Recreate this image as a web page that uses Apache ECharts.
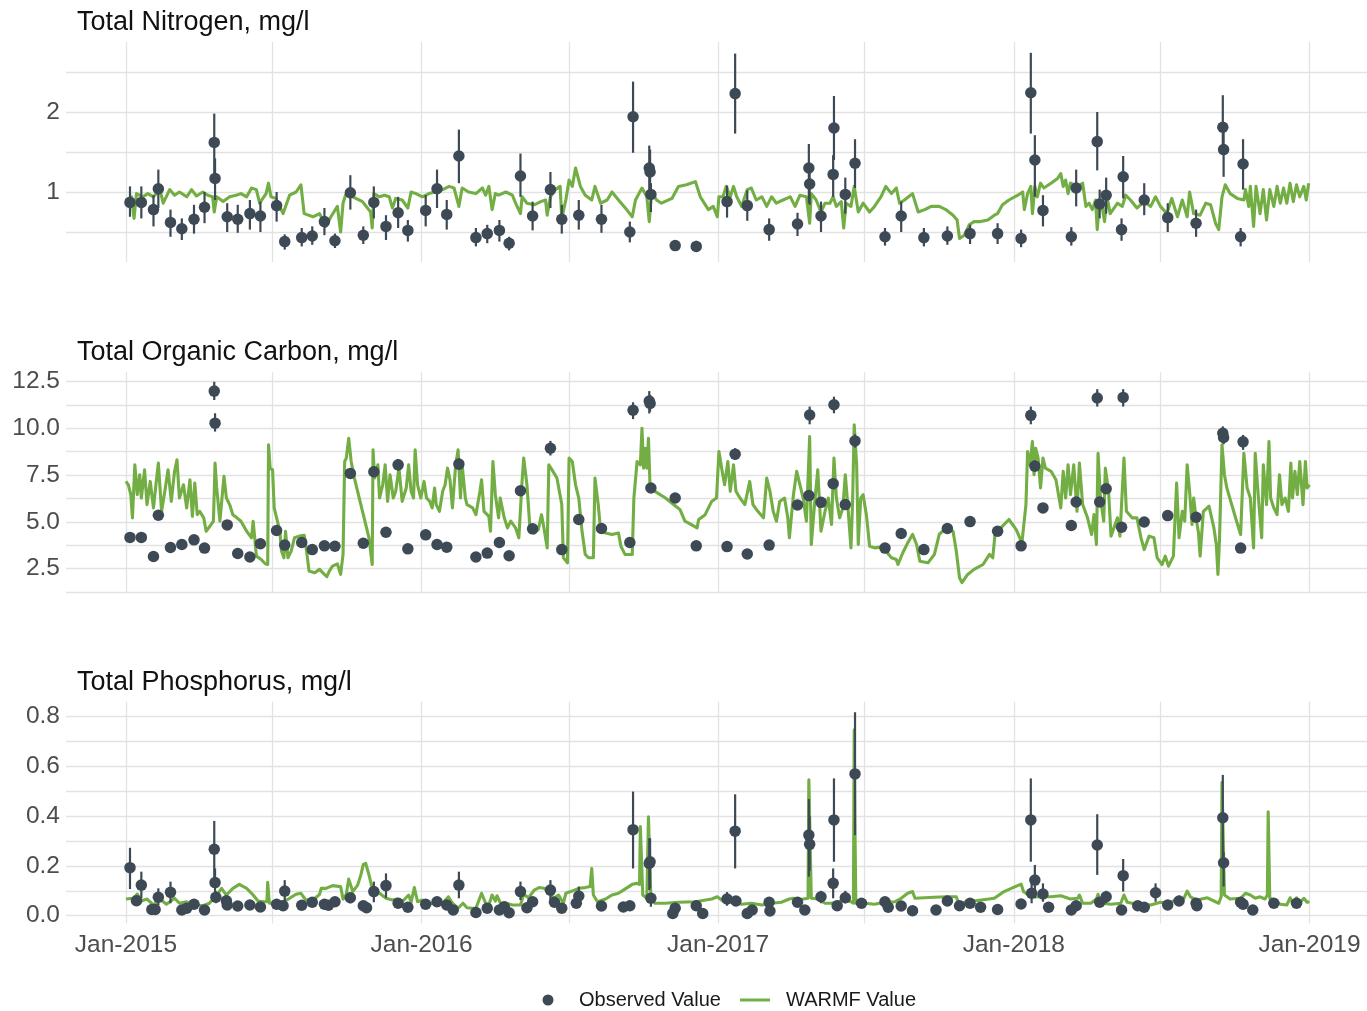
<!DOCTYPE html>
<html>
<head>
<meta charset="utf-8">
<script src="https://cdn.jsdelivr.net/npm/echarts@6/dist/echarts.min.js"></script>
<style>
  html, body { margin: 0; padding: 0; background: #ffffff; }
  #chart { width: 1367px; height: 1011px; }
</style>
</head>
<body>
<div id="chart"></div>
<script>
// ---- Observed samples: [date, value, lower, upper] ----
const tnObs = [
  ['2015-01-06',0.87,0.69,1.07],['2015-01-20',0.87,0.67,1.07],['2015-02-04',0.78,0.57,0.96],['2015-02-10',1.04,0.80,1.28],
  ['2015-02-25',0.62,0.44,0.78],['2015-03-11',0.54,0.40,0.67],['2015-03-26',0.66,0.48,0.84],['2015-04-08',0.81,0.61,1.00],
  ['2015-04-20',1.62,1.23,1.98],['2015-04-21',1.17,0.90,1.42],['2015-05-06',0.69,0.50,0.86],['2015-05-19',0.66,0.49,0.84],
  ['2015-06-03',0.73,0.53,0.90],['2015-06-16',0.70,0.50,0.88],['2015-07-06',0.83,0.63,1.00],['2015-07-16',0.38,0.28,0.47],
  ['2015-08-06',0.43,0.32,0.55],['2015-08-19',0.45,0.34,0.57],['2015-09-03',0.63,0.46,0.80],['2015-09-16',0.39,0.30,0.48],
  ['2015-10-05',0.99,0.78,1.21],['2015-10-21',0.46,0.35,0.57],['2015-11-03',0.87,0.67,1.07],['2015-11-18',0.57,0.40,0.71],
  ['2015-12-03',0.74,0.55,0.94],['2015-12-15',0.52,0.38,0.65],['2016-01-06',0.77,0.57,0.96],['2016-01-20',1.04,0.80,1.28],
  ['2016-02-01',0.72,0.53,0.90],['2016-02-16',1.45,1.11,1.78],['2016-03-08',0.43,0.32,0.55],['2016-03-22',0.48,0.36,0.59],
  ['2016-04-06',0.52,0.38,0.65],['2016-04-18',0.36,0.27,0.44],['2016-05-02',1.20,0.94,1.48],['2016-05-17',0.70,0.52,0.88],
  ['2016-06-08',1.03,0.80,1.25],['2016-06-22',0.66,0.48,0.84],['2016-07-13',0.71,0.53,0.90],['2016-08-10',0.66,0.49,0.84],
  ['2016-09-14',0.50,0.37,0.63],['2016-09-18',1.94,1.49,2.38],['2016-10-08',1.30,1.00,1.58],['2016-10-09',1.25,0.98,1.53],
  ['2016-10-10',0.97,0.75,1.11],['2016-11-09',0.33,0.27,0.40],['2016-12-05',0.32,0.25,0.39],['2017-01-12',0.88,0.68,1.08],
  ['2017-01-22',2.23,1.73,2.73],['2017-02-06',0.83,0.64,1.02],['2017-03-05',0.53,0.39,0.67],['2017-04-09',0.60,0.45,0.74],
  ['2017-04-23',1.30,0.86,1.60],['2017-04-24',1.10,0.84,1.32],['2017-05-08',0.70,0.50,0.88],['2017-05-23',1.22,0.94,1.46],
  ['2017-05-24',1.80,1.40,2.20],['2017-06-07',0.97,0.73,1.18],['2017-06-19',1.36,1.05,1.66],['2017-07-26',0.44,0.33,0.55],
  ['2017-08-15',0.70,0.50,0.88],['2017-09-12',0.43,0.32,0.55],['2017-10-11',0.45,0.34,0.57],['2017-11-08',0.48,0.35,0.59],
  ['2017-12-12',0.48,0.35,0.61],['2018-01-10',0.42,0.31,0.53],['2018-01-22',2.24,1.73,2.74],['2018-01-27',1.40,0.94,1.71],
  ['2018-02-06',0.77,0.57,0.96],['2018-03-13',0.44,0.33,0.56],['2018-03-19',1.05,0.82,1.28],['2018-04-14',1.63,1.27,2.00],
  ['2018-04-17',0.85,0.67,1.03],['2018-04-25',0.96,0.73,1.18],['2018-05-14',0.53,0.39,0.67],['2018-05-16',1.19,0.92,1.45],
  ['2018-06-11',0.90,0.71,1.11],['2018-07-10',0.68,0.50,0.86],['2018-08-14',0.61,0.44,0.78],['2018-09-16',1.81,1.53,2.21],
  ['2018-09-17',1.53,1.19,1.84],['2018-10-08',0.44,0.32,0.55],['2018-10-11',1.35,1.03,1.66]
];

const tocObs = [
  ['2015-01-06',4.16,4.00,4.32],['2015-01-20',4.16,4.00,4.32],['2015-02-04',3.14,3.02,3.26],['2015-02-10',5.35,5.15,5.55],
  ['2015-02-25',3.62,3.48,3.76],['2015-03-11',3.78,3.64,3.92],['2015-03-26',4.03,3.88,4.18],['2015-04-08',3.59,3.45,3.73],
  ['2015-04-20',12.00,11.52,12.50],['2015-04-21',10.28,9.83,10.81],['2015-05-06',4.83,4.65,5.01],['2015-05-19',3.30,3.17,3.43],
  ['2015-06-03',3.11,2.99,3.23],['2015-06-16',3.82,3.67,3.97],['2015-07-06',4.53,4.36,4.70],['2015-07-16',3.75,3.61,3.89],
  ['2015-08-06',3.89,3.74,4.04],['2015-08-19',3.51,3.38,3.64],['2015-09-03',3.71,3.57,3.85],['2015-09-16',3.69,3.55,3.83],
  ['2015-10-05',7.59,7.30,7.88],['2015-10-21',3.85,3.70,4.00],['2015-11-03',7.68,7.39,7.97],['2015-11-18',4.44,4.27,4.61],
  ['2015-12-03',8.05,7.74,8.36],['2015-12-15',3.55,3.41,3.69],['2016-01-06',4.30,4.14,4.46],['2016-01-20',3.78,3.64,3.92],
  ['2016-02-01',3.64,3.50,3.78],['2016-02-16',8.09,7.78,8.40],['2016-03-08',3.11,2.99,3.23],['2016-03-22',3.32,3.19,3.45],
  ['2016-04-06',3.89,3.74,4.04],['2016-04-18',3.18,3.06,3.30],['2016-05-02',6.66,6.41,6.91],['2016-05-17',4.62,4.44,4.80],
  ['2016-06-08',8.94,8.55,9.33],['2016-06-22',3.51,3.38,3.64],['2016-07-13',5.12,4.93,5.31],['2016-08-10',4.64,4.46,4.82],
  ['2016-09-14',3.89,3.74,4.04],['2016-09-18',10.97,10.50,11.40],['2016-10-08',11.47,10.80,12.00],['2016-10-09',11.34,10.90,11.80],
  ['2016-10-10',6.81,6.55,7.07],['2016-11-09',6.27,6.03,6.51],['2016-12-05',3.71,3.57,3.85],['2017-01-12',3.67,3.53,3.81],
  ['2017-01-22',8.62,8.32,8.94],['2017-02-06',3.27,3.15,3.39],['2017-03-05',3.75,3.61,3.89],['2017-04-09',5.90,5.68,6.12],
  ['2017-04-23',6.40,6.16,6.64],['2017-04-24',10.72,10.22,11.17],['2017-05-08',6.04,5.81,6.27],['2017-05-23',7.04,6.77,7.31],
  ['2017-05-24',11.27,10.81,11.70],['2017-06-07',5.92,5.70,6.14],['2017-06-19',9.33,8.97,9.69],['2017-07-26',3.59,3.45,3.73],
  ['2017-08-15',4.37,4.20,4.54],['2017-09-12',3.51,3.38,3.64],['2017-10-11',4.64,4.46,4.82],['2017-11-08',5.01,4.82,5.20],
  ['2017-12-12',4.49,4.32,4.66],['2018-01-10',3.71,3.57,3.85],['2018-01-22',10.70,10.22,11.17],['2018-01-27',7.98,7.68,8.28],
  ['2018-02-06',5.74,5.52,5.96],['2018-03-13',4.80,4.62,4.98],['2018-03-19',6.06,5.83,6.29],['2018-04-14',11.63,11.17,12.10],
  ['2018-04-17',6.06,5.83,6.29],['2018-04-25',6.77,6.51,7.03],['2018-05-14',4.71,4.53,4.89],['2018-05-16',11.66,11.17,12.10],
  ['2018-06-11',4.99,4.80,5.18],['2018-07-10',5.33,5.13,5.53],['2018-08-14',5.24,5.04,5.44],['2018-09-16',9.74,9.37,10.11],
  ['2018-09-17',9.51,9.15,9.87],['2018-10-08',3.59,3.45,3.73],['2018-10-11',9.28,8.85,9.65]
];

const tpObs = [
  ['2015-01-06',0.193,0.107,0.273],['2015-01-14',0.060,0.045,0.075],['2015-01-20',0.123,0.070,0.177],['2015-02-02',0.025,0.018,0.032],
  ['2015-02-06',0.025,0.018,0.032],['2015-02-10',0.074,0.043,0.110],['2015-02-25',0.094,0.050,0.137],['2015-03-11',0.023,0.016,0.030],
  ['2015-03-17',0.030,0.021,0.039],['2015-03-26',0.046,0.032,0.060],['2015-04-08',0.023,0.016,0.030],['2015-04-20',0.267,0.137,0.381],
  ['2015-04-21',0.133,0.070,0.190],['2015-04-22',0.074,0.050,0.098],['2015-05-05',0.060,0.042,0.078],['2015-05-06',0.043,0.030,0.056],
  ['2015-05-19',0.039,0.027,0.051],['2015-06-03',0.043,0.030,0.056],['2015-06-16',0.035,0.025,0.045],['2015-07-06',0.046,0.032,0.060],
  ['2015-07-14',0.040,0.028,0.052],['2015-07-16',0.099,0.056,0.143],['2015-08-06',0.042,0.029,0.055],['2015-08-19',0.054,0.038,0.070],
  ['2015-09-03',0.046,0.032,0.060],['2015-09-08',0.042,0.029,0.055],['2015-09-16',0.056,0.039,0.073],['2015-10-05',0.072,0.050,0.094],
  ['2015-10-21',0.040,0.028,0.052],['2015-10-25',0.032,0.022,0.042],['2015-11-03',0.097,0.054,0.137],['2015-11-18',0.121,0.072,0.170],
  ['2015-12-03',0.050,0.035,0.065],['2015-12-15',0.034,0.024,0.044],['2016-01-06',0.046,0.032,0.060],['2016-01-20',0.056,0.039,0.073],
  ['2016-02-01',0.043,0.030,0.056],['2016-02-09',0.023,0.016,0.030],['2016-02-16',0.123,0.070,0.177],['2016-03-08',0.013,0.009,0.017],
  ['2016-03-22',0.030,0.021,0.039],['2016-04-06',0.023,0.016,0.030],['2016-04-12',0.036,0.025,0.047],['2016-04-18',0.012,0.008,0.016],
  ['2016-05-02',0.097,0.063,0.137],['2016-05-10',0.032,0.022,0.042],['2016-05-17',0.056,0.039,0.073],['2016-06-08',0.103,0.063,0.143],
  ['2016-06-13',0.054,0.038,0.070],['2016-06-22',0.030,0.021,0.039],['2016-07-10',0.050,0.035,0.065],['2016-07-13',0.079,0.050,0.117],
  ['2016-08-10',0.039,0.027,0.051],['2016-09-06',0.035,0.025,0.045],['2016-09-14',0.040,0.028,0.052],['2016-09-18',0.346,0.190,0.499],
  ['2016-10-08',0.210,0.103,0.311],['2016-10-09',0.217,0.110,0.311],['2016-10-10',0.070,0.036,0.090],['2016-11-06',0.009,0.006,0.012],
  ['2016-11-09',0.030,0.021,0.039],['2016-12-05',0.040,0.028,0.052],['2016-12-13',0.009,0.006,0.012],['2017-01-12',0.067,0.040,0.095],
  ['2017-01-22',0.340,0.190,0.488],['2017-01-23',0.059,0.041,0.077],['2017-02-06',0.009,0.006,0.012],['2017-02-12',0.023,0.016,0.030],
  ['2017-03-05',0.054,0.038,0.070],['2017-03-06',0.019,0.013,0.025],['2017-04-09',0.054,0.038,0.070],['2017-04-18',0.023,0.016,0.030],
  ['2017-04-23',0.324,0.157,0.469],['2017-04-24',0.287,0.180,0.400],['2017-05-08',0.076,0.050,0.100],['2017-05-23',0.130,0.070,0.190],
  ['2017-05-24',0.385,0.217,0.552],['2017-05-28',0.040,0.028,0.052],['2017-06-07',0.072,0.050,0.100],['2017-06-19',0.570,0.324,0.818],
  ['2017-06-27',0.050,0.035,0.065],['2017-07-26',0.056,0.039,0.073],['2017-07-30',0.034,0.024,0.044],['2017-08-15',0.039,0.027,0.051],
  ['2017-08-29',0.020,0.014,0.026],['2017-09-27',0.023,0.016,0.030],['2017-10-11',0.059,0.040,0.080],['2017-10-26',0.040,0.028,0.052],
  ['2017-11-08',0.050,0.035,0.065],['2017-11-21',0.034,0.024,0.044],['2017-12-12',0.025,0.018,0.032],['2018-01-10',0.047,0.033,0.061],
  ['2018-01-22',0.385,0.217,0.552],['2018-01-23',0.090,0.050,0.130],['2018-01-27',0.143,0.070,0.204],['2018-02-06',0.087,0.056,0.130],
  ['2018-02-13',0.034,0.024,0.044],['2018-03-13',0.023,0.016,0.030],['2018-03-19',0.040,0.028,0.052],['2018-04-14',0.284,0.164,0.408],
  ['2018-04-17',0.054,0.038,0.070],['2018-04-25',0.076,0.050,0.100],['2018-05-14',0.023,0.016,0.030],['2018-05-16',0.161,0.097,0.228],
  ['2018-06-03',0.040,0.028,0.052],['2018-06-11',0.034,0.024,0.044],['2018-06-25',0.092,0.056,0.130],['2018-07-10',0.043,0.030,0.056],
  ['2018-07-24',0.059,0.040,0.080],['2018-08-14',0.050,0.035,0.065],['2018-08-15',0.040,0.028,0.052],['2018-09-16',0.394,0.190,0.566],
  ['2018-09-17',0.213,0.117,0.257],['2018-10-08',0.054,0.038,0.070],['2018-10-11',0.046,0.032,0.060],['2018-10-23',0.023,0.016,0.030],
  ['2018-11-18',0.050,0.035,0.065],['2018-12-16',0.050,0.035,0.065]
];

// ---- WARMF simulation output: [simulation day since MODEL_START, value] ----
const MODEL_START = [2015, 0, 1];

const tnModel = [
  [0,0.90],[7,0.94],[10,0.67],[13,0.98],[21,0.94],[27,0.98],[34,0.94],[42,1.03],[46,0.86],[54,1.03],[60,0.96],[66,1.00],
  [75,0.94],[81,1.03],[87,0.95],[95,1.00],[101,0.96],[107,0.94],[109,0.75],[112,0.94],[120,0.88],[128,0.94],[136,0.96],
  [142,0.98],[149,0.94],[155,1.05],[161,1.03],[165,0.86],[173,0.98],[176,1.11],[179,0.94],[185,0.92],[194,0.73],[202,0.96],
  [210,1.00],[216,1.09],[220,0.73],[231,0.69],[239,0.73],[247,0.57],[253,0.69],[261,0.82],[265,0.50],[268,0.86],[271,0.96],
  [280,0.94],[292,0.88],[302,0.75],[304,0.55],[306,0.98],[313,0.94],[319,0.96],[325,0.94],[329,0.80],[333,0.92],[341,0.90],
  [348,0.80],[352,1.00],[358,0.98],[366,0.94],[374,0.98],[382,1.00],[391,1.03],[399,1.07],[405,1.05],[411,0.82],[415,1.05],
  [423,1.00],[432,0.98],[440,1.05],[444,0.96],[448,1.07],[452,0.78],[456,0.98],[460,0.96],[469,1.00],[477,0.96],[481,0.86],
  [487,0.73],[489,0.94],[495,0.86],[504,0.84],[512,0.88],[518,0.90],[520,0.71],[524,0.94],[530,1.03],[536,1.07],[538,0.67],
  [543,0.90],[547,1.15],[551,1.07],[555,1.30],[557,1.32],[561,1.07],[567,0.96],[575,0.90],[579,1.07],[586,0.86],[594,0.90],
  [600,1.00],[608,0.90],[618,0.78],[625,0.69],[629,0.90],[637,1.05],[643,0.94],[646,0.63],[649,1.00],[655,0.90],[661,0.86],
  [674,0.92],[682,1.07],[692,1.09],[703,1.13],[709,0.94],[719,0.78],[725,0.82],[730,0.69],[732,0.94],[737,0.94],[741,1.07],
  [746,0.94],[750,1.07],[754,0.94],[760,0.82],[767,1.03],[772,1.05],[778,0.90],[785,0.94],[791,0.82],[797,0.94],[803,0.86],
  [811,0.90],[820,0.94],[826,0.82],[832,0.96],[840,0.94],[844,0.61],[846,0.98],[852,0.90],[858,0.75],[863,0.86],[869,0.86],
  [873,0.94],[877,0.82],[883,0.88],[886,0.55],[889,0.86],[895,0.82],[899,1.07],[904,0.75],[910,0.86],[918,0.75],[924,0.82],
  [932,0.94],[938,1.07],[945,0.98],[951,1.05],[955,0.86],[961,0.90],[966,0.94],[971,0.98],[978,0.75],[986,0.78],[994,0.82],
  [1004,0.82],[1012,0.78],[1021,0.71],[1026,0.65],[1029,0.42],[1035,0.46],[1041,0.59],[1047,0.63],[1055,0.63],[1064,0.65],
  [1072,0.71],[1076,0.73],[1082,0.84],[1090,0.90],[1101,0.96],[1107,1.00],[1109,0.78],[1113,0.98],[1117,1.07],[1119,0.73],
  [1122,1.07],[1125,0.94],[1129,1.11],[1133,1.05],[1142,1.11],[1150,1.17],[1154,1.23],[1157,1.07],[1160,1.15],[1163,0.98],
  [1166,1.11],[1175,1.07],[1181,1.11],[1185,0.82],[1189,0.86],[1193,0.78],[1197,0.90],[1199,0.53],[1202,0.90],[1205,0.82],
  [1208,0.63],[1211,0.94],[1215,0.73],[1224,0.86],[1230,0.82],[1234,0.96],[1240,0.90],[1248,0.80],[1257,0.88],[1265,0.82],
  [1271,0.94],[1277,0.82],[1285,0.73],[1291,0.92],[1298,0.69],[1304,0.90],[1310,0.69],[1313,1.00],[1318,0.73],[1326,0.71],
  [1333,0.86],[1339,0.84],[1345,0.61],[1349,0.53],[1353,0.94],[1357,1.09],[1363,0.98],[1372,0.92],[1380,0.90],[1382,1.03],
  [1386,0.82],[1388,1.07],[1392,0.57],[1395,1.07],[1400,0.73],[1404,1.03],[1408,0.65],[1412,1.03],[1417,0.82],[1421,1.07],
  [1425,0.86],[1429,1.05],[1433,0.86],[1437,1.11],[1441,0.88],[1445,1.09],[1449,0.94],[1454,1.07],[1457,0.90],[1460,1.11]
];

const tocModel = [
  [0,7.16],[3,6.98],[6,6.45],[8,5.21],[11,8.05],[14,6.45],[17,7.52],[19,6.27],[23,7.78],[26,5.92],[30,7.16],[34,5.74],
  [37,6.98],[40,8.14],[44,5.56],[48,6.63],[52,7.78],[56,6.09],[60,7.70],[63,8.32],[66,6.27],[71,6.98],[75,5.74],[79,7.25],
  [82,5.29],[85,7.07],[88,5.38],[91,5.56],[96,5.21],[99,4.49],[105,4.85],[108,5.03],[110,8.14],[112,6.81],[116,5.03],
  [121,7.43],[124,6.27],[128,5.92],[132,5.38],[137,5.21],[142,5.03],[149,4.49],[155,4.14],[157,5.03],[159,4.14],[161,3.16],
  [167,2.98],[172,2.75],[175,2.71],[176,9.12],[178,7.87],[181,7.78],[183,5.74],[186,5.21],[190,4.49],[192,3.43],[195,3.07],
  [197,4.49],[200,3.07],[204,3.43],[208,4.14],[214,4.23],[220,4.28],[223,3.43],[226,2.36],[233,2.27],[239,2.45],[245,2.18],
  [248,2.06],[251,2.36],[255,2.62],[261,2.75],[265,2.18],[268,3.25],[270,8.23],[272,8.41],[275,9.47],[278,8.23],[282,7.34],
  [288,6.27],[294,5.21],[300,4.14],[304,2.71],[305,8.85],[307,7.34],[311,8.05],[313,6.27],[317,6.98],[320,8.05],[323,6.09],
  [326,7.52],[330,6.27],[333,6.63],[337,7.87],[341,6.09],[346,6.81],[349,8.05],[352,6.63],[355,6.27],[357,8.85],[360,6.98],
  [364,6.27],[368,7.16],[371,6.27],[375,6.09],[378,5.74],[381,6.81],[383,5.92],[387,5.56],[391,6.63],[394,6.98],[397,7.87],
  [400,7.25],[403,5.74],[407,8.05],[410,8.85],[413,6.27],[415,8.05],[419,6.27],[421,5.92],[428,5.74],[432,5.38],[437,6.63],
  [439,7.25],[442,5.56],[448,5.29],[450,4.49],[453,8.23],[456,6.45],[460,5.21],[462,6.27],[467,5.21],[471,4.67],[475,5.03],
  [481,4.67],[485,4.14],[487,4.14],[489,7.16],[491,8.41],[495,6.98],[499,4.49],[504,4.40],[509,4.58],[513,5.38],[516,4.67],
  [520,3.60],[522,8.05],[526,7.78],[532,7.34],[538,5.92],[540,3.07],[542,3.07],[545,2.80],[547,8.41],[551,8.23],[555,6.98],
  [559,6.27],[563,4.49],[567,3.25],[571,3.07],[577,3.07],[579,7.34],[583,5.92],[586,4.49],[592,4.40],[600,4.32],[608,4.40],
  [611,3.69],[616,3.25],[625,3.25],[627,6.27],[631,8.23],[635,8.05],[637,10.01],[639,7.87],[641,8.94],[643,7.87],[645,9.47],
  [647,6.81],[653,6.63],[666,6.27],[676,5.92],[684,5.65],[690,5.03],[698,4.85],[705,4.67],[707,5.12],[715,5.38],[723,6.09],
  [729,6.27],[732,8.76],[736,7.70],[739,6.98],[743,8.23],[746,6.63],[750,8.05],[753,6.63],[758,6.27],[764,5.92],[770,7.16],
  [774,5.92],[780,5.56],[787,5.21],[791,7.34],[795,6.63],[799,5.56],[803,5.03],[807,6.09],[813,6.27],[817,5.21],[819,4.14],
  [824,6.45],[828,7.70],[832,6.98],[836,6.27],[840,5.03],[844,9.56],[846,3.78],[850,5.92],[854,7.78],[858,4.49],[863,5.56],
  [867,6.27],[871,4.85],[874,8.41],[877,6.27],[881,5.21],[885,5.74],[888,7.52],[891,5.92],[895,3.60],[897,6.09],[899,10.19],
  [902,8.05],[904,3.78],[907,6.27],[910,6.45],[914,5.38],[918,3.69],[924,3.60],[932,3.64],[938,3.43],[945,3.07],[951,2.98],
  [953,2.71],[959,3.34],[965,3.87],[971,4.32],[976,3.78],[980,2.89],[990,2.80],[998,3.25],[1004,4.32],[1010,4.58],[1017,4.58],
  [1021,4.49],[1025,3.43],[1029,2.00],[1032,1.74],[1039,2.18],[1047,2.45],[1058,2.71],[1066,3.25],[1070,3.07],[1073,4.40],
  [1080,4.67],[1090,5.12],[1099,4.58],[1106,3.87],[1111,5.92],[1113,8.76],[1116,8.05],[1119,9.30],[1121,7.52],[1123,8.94],
  [1126,8.41],[1129,6.81],[1132,8.41],[1135,7.87],[1142,7.70],[1148,7.25],[1154,5.74],[1157,7.70],[1160,6.27],[1163,8.05],
  [1166,6.45],[1170,8.05],[1174,5.56],[1177,8.14],[1181,5.92],[1187,5.21],[1192,4.32],[1195,5.38],[1198,3.78],[1200,8.67],
  [1203,6.27],[1207,5.03],[1209,7.87],[1213,6.63],[1216,4.23],[1224,5.21],[1227,4.23],[1232,8.41],[1235,5.56],[1242,5.21],
  [1248,5.21],[1253,4.14],[1257,3.51],[1263,4.23],[1269,4.14],[1273,3.07],[1279,2.71],[1283,3.16],[1287,2.62],[1293,3.16],
  [1297,7.07],[1300,4.14],[1304,5.56],[1307,5.03],[1310,8.05],[1313,6.63],[1316,4.85],[1318,6.27],[1321,5.21],[1324,4.40],
  [1326,3.16],[1330,5.56],[1337,5.83],[1343,4.67],[1346,3.78],[1348,2.18],[1350,4.14],[1353,9.12],[1356,7.52],[1359,6.81],
  [1365,5.92],[1371,5.03],[1376,4.32],[1380,8.67],[1384,6.81],[1388,6.27],[1392,3.60],[1394,8.67],[1398,6.27],[1402,4.14],
  [1404,8.05],[1408,5.92],[1411,9.30],[1413,6.27],[1417,5.74],[1421,5.38],[1424,7.52],[1427,5.92],[1431,6.27],[1435,5.56],
  [1438,8.14],[1440,6.27],[1443,7.70],[1446,6.45],[1449,8.23],[1453,5.92],[1456,8.23],[1458,6.81],[1461,6.98]
];

const tpModel = [
  [0,0.067],[9,0.070],[14,0.087],[19,0.059],[26,0.067],[34,0.043],[42,0.067],[50,0.046],[60,0.070],[66,0.050],[75,0.056],
  [80,0.046],[87,0.043],[95,0.040],[103,0.050],[112,0.083],[118,0.110],[124,0.083],[132,0.110],[140,0.126],[149,0.110],
  [157,0.083],[163,0.059],[169,0.056],[174,0.056],[175,0.134],[177,0.050],[185,0.054],[194,0.056],[202,0.070],[210,0.086],
  [216,0.090],[222,0.063],[231,0.063],[239,0.086],[241,0.110],[247,0.110],[255,0.121],[265,0.117],[268,0.067],[272,0.086],
  [275,0.147],[280,0.097],[286,0.123],[290,0.164],[293,0.206],[296,0.210],[300,0.164],[304,0.110],[313,0.090],[321,0.070],
  [329,0.063],[335,0.067],[341,0.056],[349,0.083],[352,0.054],[356,0.113],[360,0.056],[366,0.063],[374,0.043],[382,0.059],
  [391,0.050],[398,0.076],[403,0.050],[410,0.030],[416,0.050],[421,0.032],[428,0.030],[432,0.030],[439,0.090],[444,0.050],
  [448,0.043],[452,0.083],[456,0.059],[458,0.080],[463,0.046],[469,0.050],[477,0.043],[487,0.043],[491,0.086],[497,0.072],
  [504,0.103],[510,0.113],[516,0.110],[522,0.099],[528,0.070],[534,0.083],[540,0.050],[543,0.090],[549,0.097],[559,0.110],
  [567,0.113],[573,0.117],[575,0.190],[577,0.083],[582,0.056],[592,0.067],[600,0.083],[608,0.090],[616,0.107],[625,0.126],
  [631,0.130],[634,0.126],[635,0.358],[637,0.358],[638,0.083],[643,0.070],[645,0.398],[647,0.398],[648,0.070],[653,0.050],
  [666,0.050],[682,0.054],[703,0.056],[723,0.067],[730,0.076],[737,0.059],[748,0.054],[760,0.046],[772,0.050],[785,0.043],
  [797,0.050],[809,0.054],[819,0.067],[824,0.070],[830,0.063],[836,0.067],[842,0.070],[843,0.546],[845,0.546],[846,0.070],
  [854,0.067],[863,0.050],[871,0.050],[879,0.056],[887,0.063],[895,0.056],[898,0.050],[899,0.747],[900,0.330],[901,0.050],
  [912,0.050],[924,0.046],[936,0.054],[949,0.056],[957,0.070],[965,0.090],[971,0.097],[974,0.070],[986,0.072],[998,0.074],
  [1014,0.076],[1025,0.076],[1028,0.050],[1039,0.056],[1056,0.063],[1072,0.070],[1084,0.097],[1095,0.113],[1105,0.127],
  [1108,0.097],[1117,0.076],[1129,0.076],[1142,0.076],[1154,0.080],[1166,0.067],[1175,0.070],[1177,0.083],[1181,0.050],
  [1191,0.050],[1198,0.067],[1200,0.086],[1203,0.050],[1216,0.046],[1228,0.050],[1232,0.083],[1236,0.054],[1248,0.046],
  [1265,0.043],[1277,0.054],[1287,0.050],[1298,0.067],[1306,0.070],[1310,0.099],[1314,0.076],[1322,0.063],[1335,0.072],
  [1345,0.056],[1349,0.050],[1352,0.076],[1353,0.536],[1355,0.536],[1356,0.083],[1363,0.067],[1376,0.070],[1382,0.090],
  [1388,0.083],[1394,0.070],[1400,0.076],[1406,0.067],[1409,0.083],[1410,0.418],[1412,0.070],[1417,0.063],[1425,0.046],
  [1433,0.043],[1437,0.072],[1441,0.046],[1445,0.072],[1449,0.050],[1454,0.070],[1458,0.054],[1461,0.056]
];

// ---- Axis ticks ----
const yearTicks = ['2015-01-01','2016-01-01','2017-01-01','2018-01-01','2019-01-01'];
const xGridTicks = ['2015-01-01','2015-07-01','2016-01-01','2016-07-01','2017-01-01','2017-07-01',
                    '2018-01-01','2018-07-01','2019-01-01'];
const tnTicks = [1, 2];
const tnGrid = [0.5, 1, 1.5, 2, 2.5];
const tocTicks = [2.5, 5, 7.5, 10, 12.5];
const tocGrid = [1.25, 2.5, 3.75, 5, 6.25, 7.5, 8.75, 10, 11.25, 12.5];
const tpTicks = [0, 0.2, 0.4, 0.6, 0.8];
const tpGrid = [0, 0.1, 0.2, 0.3, 0.4, 0.5, 0.6, 0.7, 0.8];

// ---- Helpers ----
// Dates are placed on a numeric (millisecond) axis so tick positions can be listed explicitly.
const parseDate = s => { const p = s.split('-').map(Number); return new Date(p[0], p[1] - 1, p[2]).getTime(); };
const modelTime = d => new Date(MODEL_START[0], MODEL_START[1], MODEL_START[2] + d).getTime();
const MONTHS = ['Jan','Feb','Mar','Apr','May','Jun','Jul','Aug','Sep','Oct','Nov','Dec'];

const OBS_COLOR = '#3d4a56';
const MODEL_COLOR = '#72ae44';
const GRID_COLOR = '#e2e2e2';
const FONT = "'Liberation Sans', Arial, Helvetica, sans-serif";

const X_MIN = parseDate('2014-10-19');
const X_MAX = parseDate('2019-03-13');

const panels = [
  { title: 'Total Nitrogen, mg/l', obs: tnObs, model: tnModel, ticks: tnTicks, gridVals: tnGrid,
    min: 0.125, max: 2.875, top: 42, height: 220, fmt: v => String(v) },
  { title: 'Total Organic Carbon, mg/l', obs: tocObs, model: tocModel, ticks: tocTicks, gridVals: tocGrid,
    min: 1.2, max: 13.0, top: 372.4, height: 220.3, fmt: v => v.toFixed(1) },
  { title: 'Total Phosphorus, mg/l', obs: tpObs, model: tpModel, ticks: tpTicks, gridVals: tpGrid,
    min: -0.031, max: 0.86, top: 701.8, height: 221.6, fmt: v => v.toFixed(1) }
];

const grids = [], xAxes = [], yAxes = [], series = [], titles = [];

panels.forEach((p, i) => {
  const isLast = i === panels.length - 1;
  grids.push({ left: 66, top: p.top, width: 1303, height: p.height, containLabel: false });
  titles.push({
    text: p.title, left: 77, top: p.top - 33, padding: 0,
    textStyle: { fontFamily: FONT, fontSize: 27, fontWeight: 'normal', color: '#111111' }
  });
  xAxes.push({
    type: 'value', gridIndex: i, min: X_MIN, max: X_MAX,
    axisLine: { show: false },
    axisTick: { show: false, customValues: xGridTicks.map(parseDate) },
    splitLine: { show: true, lineStyle: { color: GRID_COLOR, width: 1.3 } },
    axisLabel: {
      show: isLast, margin: 9, color: '#4d4d4d', fontFamily: FONT, fontSize: 24.5,
      customValues: yearTicks.map(parseDate),
      formatter: v => { const d = new Date(v); return MONTHS[d.getMonth()] + '-' + d.getFullYear(); }
    }
  });
  yAxes.push({
    type: 'value', gridIndex: i, min: p.min, max: p.max,
    axisLine: { show: false },
    axisTick: { show: false, customValues: p.gridVals },
    splitLine: { show: true, lineStyle: { color: GRID_COLOR, width: 1.3 } },
    axisLabel: {
      margin: 6, color: '#4d4d4d', fontFamily: FONT, fontSize: 24.5,
      customValues: p.ticks, formatter: p.fmt
    }
  });
  series.push({
    type: 'line', name: 'WARMF Value', xAxisIndex: i, yAxisIndex: i,
    data: p.model.map(r => [modelTime(r[0]), r[1]]),
    showSymbol: false, symbol: 'none', smooth: false,
    lineStyle: { color: MODEL_COLOR, width: 3.1, join: 'round' }, itemStyle: { color: MODEL_COLOR },
    z: 2, silent: true
  });
  series.push({
    type: 'custom', name: 'Observed range', xAxisIndex: i, yAxisIndex: i,
    data: p.obs.map(r => [parseDate(r[0]), r[1], r[2], r[3]]),
    encode: { x: 0, y: [2, 3] },
    renderItem: (params, api) => {
      const t = api.value(0);
      const a = api.coord([t, api.value(2)]);
      const b = api.coord([t, api.value(3)]);
      return { type: 'line', shape: { x1: a[0], y1: a[1], x2: b[0], y2: b[1] },
               style: { stroke: OBS_COLOR, lineWidth: 2.2 } };
    },
    z: 3, silent: true
  });
  series.push({
    type: 'scatter', name: 'Observed Value', xAxisIndex: i, yAxisIndex: i,
    data: p.obs.map(r => [parseDate(r[0]), r[1]]),
    symbol: 'circle', symbolSize: 11.5,
    itemStyle: { color: OBS_COLOR, opacity: 1 },
    z: 4, silent: true
  });
});

const legendText = { fontFamily: FONT, fontSize: 20, color: '#1a1a1a' };

const chart = echarts.init(document.getElementById('chart'), null, { renderer: 'canvas' });
chart.setOption({
  animation: false,
  backgroundColor: '#ffffff',
  title: titles,
  grid: grids,
  xAxis: xAxes,
  yAxis: yAxes,
  legend: [
    { data: [{ name: 'Observed Value', icon: 'circle' }], left: 542.5, top: 990, padding: 0,
      itemWidth: 52, itemHeight: 11, selectedMode: false, textStyle: legendText },
    { data: [{ name: 'WARMF Value', icon: 'path://M0,0H30V3H0Z' }], left: 740, top: 990, padding: 0,
      itemWidth: 52, itemHeight: 3, selectedMode: false, textStyle: legendText }
  ],
  series: series
});
</script>
</body>
</html>
